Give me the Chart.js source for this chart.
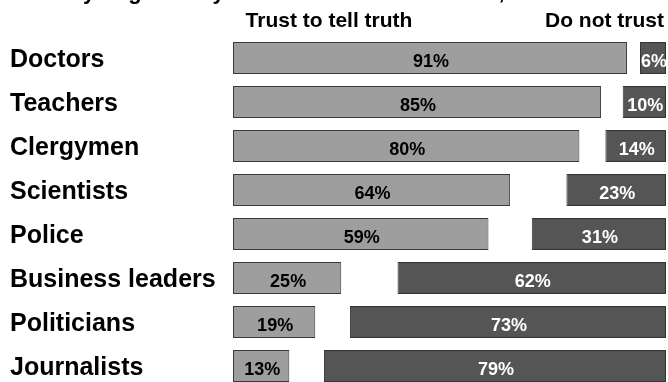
<!DOCTYPE html>
<html>
<head>
<meta charset="utf-8">
<script src="https://cdn.jsdelivr.net/npm/chart.js@4"></script>
<style>
  html, body { margin: 0; padding: 0; background: #fff; overflow: hidden; }
  canvas { display: block; }
</style>
</head>
<body>
<canvas id="trustChart" width="668" height="390"></canvas>
<script>
const categories = ["Doctors", "Teachers", "Clergymen", "Scientists", "Police", "Business leaders", "Politicians", "Journalists"];
const trustValues = [91, 85, 80, 64, 59, 25, 19, 13];
const distrustValues = [6, 10, 14, 23, 31, 62, 73, 79];
const headerTrust = "Trust to tell truth";
const headerDistrust = "Do not trust";
const titleText = "Would you generally trust them to tell the truth, or not?";

const FONT = "'Liberation Sans', Arial, Helvetica, sans-serif";

// trust bars grow from 0, distrust bars are pinned to the right end (100)
const trustBars = trustValues.map(v => [0, v]);
const distrustBars = distrustValues.map(v => [100 - v, 100]);

// headers above the columns + value labels inside bars
const textPlugin = {
  id: "textPlugin",
  afterDatasetsDraw(chart) {
    const ctx = chart.ctx;
    const x = chart.scales.x;
    ctx.save();
    // title, mostly above the top edge
    ctx.font = "bold 22px " + FONT;
    ctx.fillStyle = "#000";
    ctx.textAlign = "left";
    ctx.textBaseline = "alphabetic";
    ctx.fillText(titleText, 10, -1);

    ctx.font = "bold 21px " + FONT;
    ctx.textBaseline = "alphabetic";
    ctx.textAlign = "center";
    ctx.fillText(headerTrust, 329, 27);
    ctx.textAlign = "right";
    ctx.fillText(headerDistrust, x.getPixelForValue(100) - 2, 27);

    ctx.font = "bold 18px " + FONT;
    ctx.textAlign = "center";
    chart.data.datasets.forEach((ds, i) => {
      const meta = chart.getDatasetMeta(i);
      ctx.fillStyle = i === 0 ? "#000" : "#fff";
      meta.data.forEach((bar, j) => {
        const cx = (bar.x + bar.base) / 2;
        ctx.fillText(ds.values[j] + "%", cx + 1, bar.y + 9);
      });
    });
    ctx.restore();
  }
};

new Chart(document.getElementById("trustChart"), {
  type: "bar",
  data: {
    labels: categories,
    datasets: [
      {
        data: trustBars,
        values: trustValues,
        backgroundColor: "#9e9e9e",
        borderColor: "#3a3a3a",
        borderWidth: 1,
        borderSkipped: false,
        grouped: false,
        barPercentage: 0.727,
        categoryPercentage: 1
      },
      {
        data: distrustBars,
        values: distrustValues,
        backgroundColor: "#555555",
        borderColor: "#333333",
        borderWidth: 1,
        borderSkipped: false,
        grouped: false,
        barPercentage: 0.727,
        categoryPercentage: 1
      }
    ]
  },
  options: {
    indexAxis: "y",
    responsive: false,
    animation: false,
    layout: { padding: { top: 36, bottom: 2, left: 10, right: 2 } },
    plugins: {
      legend: { display: false },
      tooltip: { enabled: false },
      title: { display: false }
    },
    scales: {
      x: { display: false, min: 0, max: 100 },
      y: {
        grid: { display: false },
        border: { display: false },
        afterFit(scale) {
          scale.width = 223;
          // labels sit mid-row, no extra room needed at the ends
          scale.paddingTop = 0;
          scale.paddingBottom = 0;
        },
        ticks: {
          crossAlign: "far",
          padding: 0,
          labelOffset: 2,
          color: "#000",
          font: { family: FONT, size: 25, weight: "bold" }
        }
      }
    }
  },
  plugins: [textPlugin]
});
</script>
</body>
</html>
